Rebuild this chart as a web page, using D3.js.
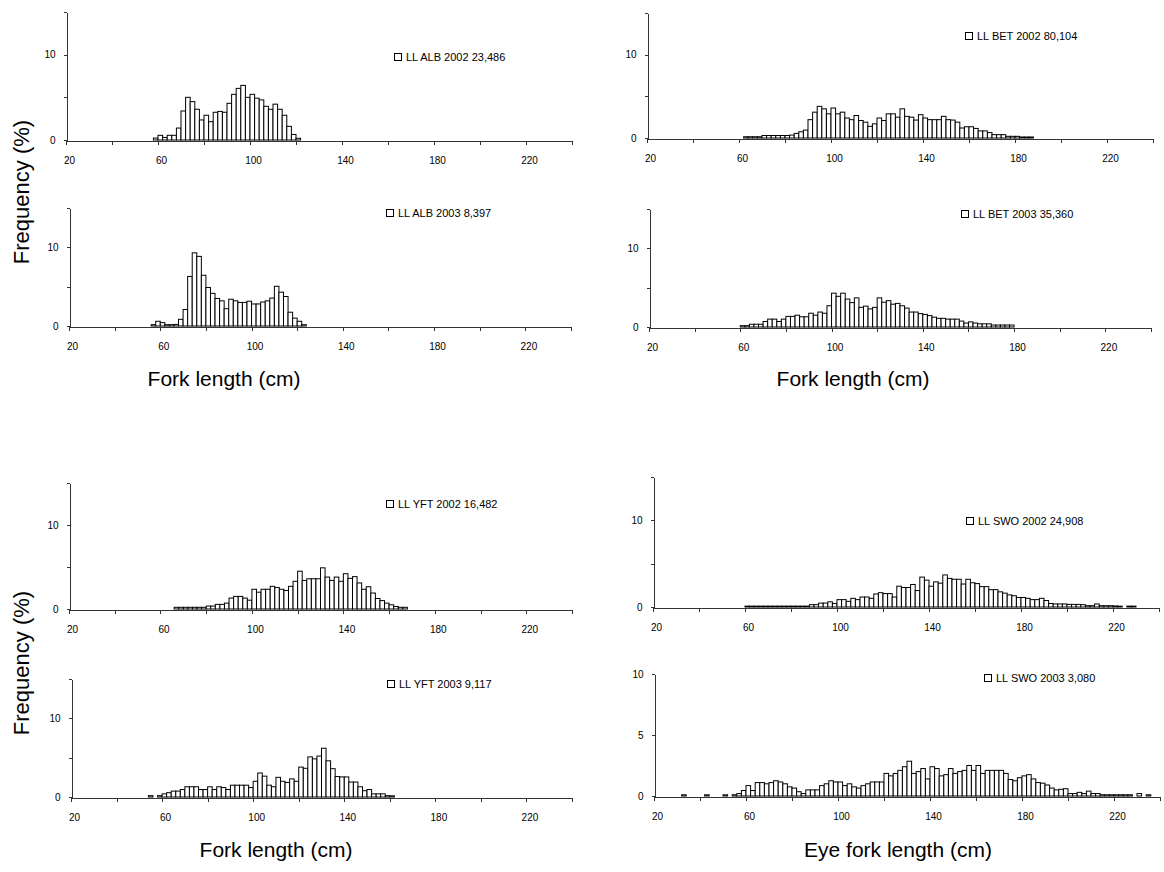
<!DOCTYPE html>
<html>
<head>
<meta charset="utf-8">
<script src="https://cdn.jsdelivr.net/npm/d3@7"></script>
<style>
  body { margin: 0; background: #fff; }
  svg { display: block; font-family: "Liberation Sans", Arial, sans-serif; }
  .bar { fill: #fff; stroke: #000; stroke-width: 1; }
  .axis path, .axis line { stroke: #333; shape-rendering: crispEdges; }
  .axis text { font-size: 10px; fill: #000; }
  .legend text { font-size: 11px; fill: #000; }
  .title { font-size: 21px; fill: #000; }
</style>
</head>
<body>
<div id="chart"></div>
<script>
// bin width (cm) and x axis ticks
const binWidth = 2;
const xTicks = [20, 40, 60, 80, 100, 120, 140, 160, 180, 200, 220, 240];
const xTickLabels = [20, 60, 100, 140, 180, 220];

// frequency (%) per 2 cm length class, first class given by *Start
const alb2002Start = 58;
const alb2002 = [0.23, 0.55, 0.3, 0.55, 0.55, 1.4, 3.4, 5.0, 4.5, 3.6, 2.35, 2.9, 2.15, 3.25, 3.35, 3.25,
  4.3, 5.35, 6.05, 6.4, 5.0, 5.35, 4.9, 4.7, 3.95, 3.6, 4.2, 3.6, 2.9, 1.6, 0.65, 0.2];

const alb2003Start = 56;
const alb2003 = [0.17, 0.6, 0.43, 0.17, 0.17, 0.2, 0.85, 2.1, 6.3, 9.3, 8.85, 6.45, 4.9, 4.15, 3.5, 3.2, 2.2,
  3.4, 3.2, 3.0, 3.0, 3.15, 2.8, 2.8, 3.05, 3.2, 3.55, 5.05, 4.3, 3.75, 1.75, 1.0, 0.6, 0.17];

const bet2002Start = 62;
const bet2002 = [0.15, 0.15, 0.15, 0.15, 0.3, 0.3, 0.3, 0.3, 0.3, 0.3, 0.35, 0.55, 0.75, 0.95, 2.2, 3.1, 3.8,
  3.5, 2.9, 3.6, 2.9, 3.1, 2.4, 2.2, 2.7, 2.1, 1.9, 1.4, 1.7, 2.4, 2.1, 2.9, 2.9, 2.5, 3.5, 2.6, 2.5, 2.15,
  2.8, 2.4, 2.2, 2.2, 2.2, 2.6, 2.2, 2.15, 1.9, 1.2, 1.35, 1.35, 1.15, 0.85, 0.85, 0.65, 0.4, 0.4, 0.4, 0.2,
  0.2, 0.2, 0.12, 0.12, 0.12];

const bet2003Start = 60;
const bet2003 = [0.17, 0.17, 0.35, 0.35, 0.35, 0.7, 1.0, 1.0, 0.7, 1.0, 1.35, 1.35, 1.5, 1.3, 1.3, 1.75, 1.5,
  1.9, 1.75, 2.7, 4.3, 3.9, 4.3, 3.55, 3.1, 3.7, 2.5, 2.65, 2.3, 2.5, 3.7, 3.15, 3.35, 2.9, 3.0, 2.7, 2.4,
  1.9, 1.9, 1.7, 1.6, 1.45, 1.25, 1.1, 1.1, 1.0, 1.0, 1.0, 0.75, 0.5, 0.65, 0.5, 0.4, 0.4, 0.4, 0.25, 0.25,
  0.25, 0.25, 0.25];

const yft2002Start = 66;
const yft2002 = [0.2, 0.2, 0.2, 0.2, 0.2, 0.2, 0.2, 0.35, 0.35, 0.55, 0.55, 0.7, 1.3, 1.5, 1.5, 1.3, 1.05,
  2.35, 2.0, 2.35, 2.35, 2.7, 2.55, 2.35, 2.2, 2.7, 3.3, 4.5, 3.4, 3.6, 3.6, 3.6, 4.9, 3.8, 3.4, 3.8, 3.3,
  4.2, 3.65, 3.85, 3.1, 2.35, 2.65, 1.9, 1.25, 1.0, 0.7, 0.5, 0.3, 0.2, 0.2];

const yft2003Start = 54;
const yft2003 = [0.17, 0, 0.17, 0.4, 0.55, 0.75, 0.75, 0.95, 1.3, 1.3, 1.3, 0.95, 0.95, 1.3, 0.95, 1.3, 1.2,
  0.95, 1.5, 1.5, 1.5, 1.5, 1.2, 2.0, 3.05, 2.65, 1.5, 1.3, 2.5, 2.0, 1.85, 2.3, 2.0, 3.8, 3.65, 5.1, 4.85,
  5.2, 6.2, 4.6, 3.6, 2.6, 2.55, 2.55, 1.9, 1.9, 1.3, 0.8, 0.95, 0.4, 0.4, 0.4, 0.17, 0.15];

const swo2002Start = 60;
const swo2002 = [0.1, 0.1, 0.1, 0.1, 0.1, 0.1, 0.1, 0.1, 0.1, 0.1, 0.1, 0.1, 0.1, 0.1, 0.27, 0.27, 0.45, 0.45,
  0.6, 0.4, 0.85, 0.85, 0.65, 1.0, 0.85, 1.15, 1.15, 1.0, 1.5, 1.65, 1.55, 1.55, 1.15, 2.4, 2.25, 2.25, 2.6,
  1.9, 3.45, 3.1, 2.4, 2.9, 2.75, 3.7, 3.3, 3.2, 3.2, 2.65, 3.2, 2.8, 2.7, 2.35, 2.35, 2.0, 2.0, 1.75, 1.6,
  1.4, 1.3, 1.1, 1.1, 1.0, 0.85, 0.85, 1.0, 0.75, 0.4, 0.35, 0.35, 0.35, 0.3, 0.3, 0.3, 0.27, 0.15, 0.15,
  0.35, 0.15, 0.15, 0.15, 0.12, 0.1, 0, 0.1, 0.1];

const swo2003Start = 32;
const swo2003 = [0.1, 0, 0, 0, 0, 0.1, 0, 0, 0, 0.1, 0, 0.1, 0.2, 0.45, 0.85, 0.45, 1.1, 1.1, 1.0, 1.1, 1.25,
  1.15, 1.0, 0.75, 0.65, 0.35, 0.2, 0.5, 0.5, 0.5, 0.85, 1.0, 1.25, 1.15, 1.15, 0.85, 1.0, 0.75, 0.65, 0.85,
  1.0, 1.15, 1.15, 1.15, 1.85, 1.65, 1.85, 2.1, 2.4, 2.85, 1.85, 2.0, 2.25, 1.4, 2.4, 2.25, 1.65, 1.75, 2.25,
  1.85, 2.0, 2.1, 2.5, 2.1, 2.5, 1.85, 2.1, 2.1, 2.1, 2.1, 1.85, 1.35, 1.25, 1.5, 1.65, 1.75, 1.4, 1.1, 1.05,
  0.9, 0.65, 0.5, 0.55, 0.6, 0.2, 0.2, 0.3, 0.2, 0.4, 0.2, 0.2, 0.1, 0.1, 0.1, 0.1, 0.1, 0.1, 0.1, 0, 0.2,
  0, 0.1];

const legendLabels = ['LL ALB 2002 23,486', 'LL ALB 2003 8,397', 'LL BET 2002 80,104', 'LL BET 2003 35,360',
  'LL YFT 2002 16,482', 'LL YFT 2003 9,117', 'LL SWO 2002 24,908', 'LL SWO 2003 3,080'];

// panel layout (pixels)
const panels = [
  { values: alb2002, start: alb2002Start, left: 66, right: 572, top: 12, zero: 140, yMax: 15, yLabels: [0, 10], legX: 394, legY: 57 },
  { values: alb2003, start: alb2003Start, left: 69, right: 571, top: 208, zero: 326, yMax: 15, yLabels: [0, 10], legX: 386, legY: 213 },
  { values: bet2002, start: bet2002Start, left: 647, right: 1153, top: 13, zero: 138, yMax: 15, yLabels: [0, 10], legX: 965, legY: 36 },
  { values: bet2003, start: bet2003Start, left: 649, right: 1151, top: 209, zero: 327, yMax: 15, yLabels: [0, 10], legX: 961, legY: 214 },
  { values: yft2002, start: yft2002Start, left: 69, right: 572, top: 483, zero: 609, yMax: 15, yLabels: [0, 10], legX: 386, legY: 504 },
  { values: yft2003, start: yft2003Start, left: 71, right: 572, top: 679, zero: 797, yMax: 15, yLabels: [0, 10], legX: 387, legY: 684 },
  { values: swo2002, start: swo2002Start, left: 653, right: 1159, top: 477, zero: 607, yMax: 15, yLabels: [0, 10], legX: 966, legY: 521 },
  { values: swo2003, start: swo2003Start, left: 654, right: 1160, top: 674, zero: 796, yMax: 10, yLabels: [0, 5, 10], legX: 984, legY: 678 }
];

const svg = d3.select('#chart')
  .append('svg')
  .attr('width', 1164)
  .attr('height', 872);

svg.append('rect').attr('width', 1164).attr('height', 872).attr('fill', '#fff');

panels.forEach((p, i) => {
  const x = d3.scaleLinear().domain([20, 240]).range([p.left, p.right]);
  const y = d3.scaleLinear().domain([0, p.yMax]).range([p.zero, p.top]);
  const g = svg.append('g');

  const bins = p.values.map((v, j) => ({ from: p.start + j * binWidth, value: v }))
    .filter(d => d.value > 0);

  g.selectAll('rect.bar')
    .data(bins)
    .enter()
    .append('rect')
    .attr('class', 'bar')
    .attr('x', d => x(d.from))
    .attr('y', d => y(d.value))
    .attr('width', d => x(d.from + binWidth) - x(d.from))
    .attr('height', d => y(0) - y(d.value));

  // x axis
  const xAxis = g.append('g')
    .attr('class', 'axis')
    .attr('transform', `translate(0,${Math.round(p.zero) + 0.5})`)
    .call(d3.axisBottom(x)
      .tickValues(xTicks)
      .tickSize(4)
      .tickSizeOuter(0)
      .tickPadding(12)
      .tickFormat(d => xTickLabels.includes(d) ? d : ''));
  xAxis.selectAll('text').attr('dx', 3);

  // y axis
  const yTicks = d3.range(0, p.yMax + 0.1, 5);
  g.append('g')
    .attr('class', 'axis')
    .attr('transform', `translate(${Math.round(p.left) + 0.5},0)`)
    .call(d3.axisLeft(y)
      .tickValues(yTicks)
      .tickSize(3)
      .tickSizeOuter(0)
      .tickPadding(8)
      .tickFormat(d => p.yLabels.includes(d) ? d : ''));

  // legend
  const leg = g.append('g').attr('class', 'legend')
    .attr('transform', `translate(${p.legX},${p.legY})`);
  leg.append('rect')
    .attr('x', 0.5).attr('y', -3.5)
    .attr('width', 7).attr('height', 7)
    .attr('fill', '#fff').attr('stroke', '#000');
  leg.append('text')
    .attr('x', 12).attr('y', 0)
    .attr('dominant-baseline', 'central')
    .text(legendLabels[i]);
});

// axis titles
const titles = [
  { text: 'Fork length (cm)', x: 224, y: 378 },
  { text: 'Fork length (cm)', x: 853, y: 378 },
  { text: 'Fork length (cm)', x: 276, y: 849 },
  { text: 'Eye fork length (cm)', x: 898, y: 849 }
];
svg.selectAll('text.xtitle')
  .data(titles)
  .enter()
  .append('text')
  .attr('class', 'title xtitle')
  .attr('x', d => d.x)
  .attr('y', d => d.y)
  .attr('text-anchor', 'middle')
  .attr('dominant-baseline', 'central')
  .text(d => d.text);

[192, 663].forEach(cy => {
  svg.append('text')
    .attr('class', 'title')
    .attr('transform', `translate(21,${cy}) rotate(-90)`)
    .attr('text-anchor', 'middle')
    .attr('dominant-baseline', 'central')
    .style('font-size', '22px')
    .text('Frequency (%)');
});
</script>
</body>
</html>
